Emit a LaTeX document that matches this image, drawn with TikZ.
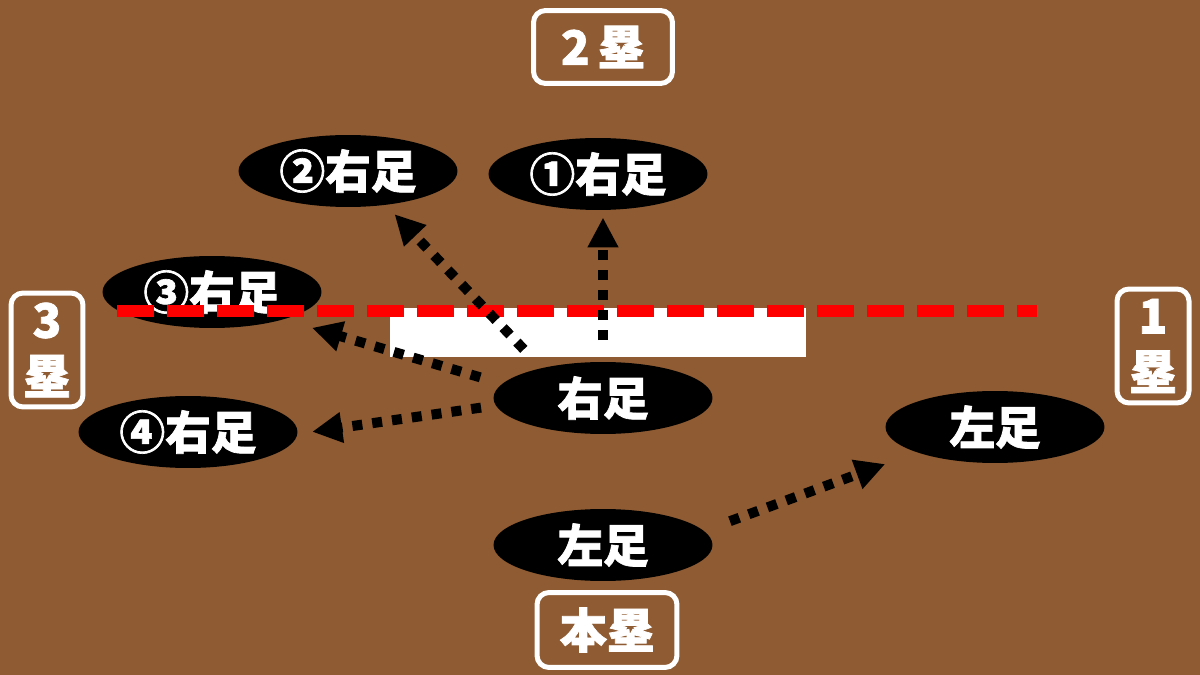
\documentclass[tikz,border=0pt]{standalone}
\usepackage{fontspec}
\usepackage{xcolor}
\usepackage{tikz}
\usetikzlibrary{shapes.geometric, arrows.meta, calc}
\newfontfamily\jp[BoldFeatures={FakeBold=1.5}]{Noto Sans CJK JP}
\definecolor{infield}{RGB}{143,91,50}
\definecolor{linered}{RGB}{255,0,0}

\begin{document}
\begin{tikzpicture}[x=0.02cm, y=-0.02cm,
		foot/.style={ellipse, fill=black, text=white, inner sep=0pt, outer sep=0pt, minimum width=4.38cm, minimum height=1.44cm, font=\jp\bfseries\fontsize{26}{30}\selectfont},
		base/.style={draw=white, line width=0.1cm, rounded corners=0.24cm, text=white, inner sep=0pt, outer sep=0pt, align=center, font=\jp\bfseries\fontsize{27}{32}\selectfont},
		walk/.style={line width=0.2cm, dash pattern=on 0.2cm off 0.2cm, -{Triangle[length=0.6cm, width=0.58cm]}}]
		\fill[infield] (0,0) rectangle (1200,675);
		\useasboundingbox (0,0) rectangle (1200,675);
		
		\node[base, minimum width=2.78cm, minimum height=1.46cm] (second) at (603,47) {2\,塁};
		\node[base, minimum width=1.44cm, minimum height=2.28cm] (third) at (47,350) {3\\塁};
		\node[base, minimum width=1.44cm, minimum height=2.28cm] (first) at (1153,346) {1\\塁};
		\node[base, minimum width=2.8cm, minimum height=1.5cm] (home) at (607,630) {本塁};
		
		\node[foot] (r1) at (598,174) {①右足};
		\node[foot] (r2) at (348,171) {②右足};
		\node[foot] (r3) at (212,292) {③右足};
		\node[foot] (r4) at (188,432) {④右足};
		\node[foot] (migi) at (603,398) {右足};
		\node[foot] (hidari) at (603,545) {左足};
		\node[foot] (hidarinext) at (995,427) {左足};
		
		\fill[white] (390,308) rectangle (806,357);
		\draw[linered, line width=0.24cm, dash pattern=on 0.74cm off 0.26cm] (117,311) -- (1037,311);
		
		\draw[walk, shorten <=0.44cm, shorten >=0.15cm] (migi.north) -- (migi.north |- r1.south);
		\draw[walk, shorten <=0.52cm, shorten >=0.26cm] (migi.154.5) -- (r2.-42);
		\draw[walk, shorten <=0.46cm, shorten >=0.6cm] (migi.172) -- (r3.-21);
		\draw[walk, shorten <=0.3cm, shorten >=0.3cm] (migi.184) -- (r4.-1);
		\draw[walk, shorten <=0.56cm, shorten >=0.68cm] (hidari.8) -- (hidarinext.198);
\end{tikzpicture}
\end{document}
